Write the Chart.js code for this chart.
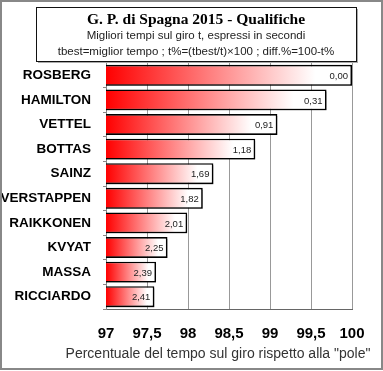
<!DOCTYPE html>
<html>
<head>
<meta charset="utf-8">
<script src="https://cdn.jsdelivr.net/npm/chart.js@4.4.1/dist/chart.umd.min.js"></script>
<style>
  body { margin: 0; background: #fff; }
  canvas { display: block; }
</style>
</head>
<body>
<canvas id="myChart" width="383" height="371"></canvas>
<script>
const drivers = ["ROSBERG", "HAMILTON", "VETTEL", "BOTTAS", "SAINZ", "VERSTAPPEN", "RAIKKONEN", "KVYAT", "MASSA", "RICCIARDO"];
const percent = [100, 99.69, 99.09, 98.82, 98.31, 98.18, 97.99, 97.75, 97.61, 97.59];
const diffLabels = ["0,00", "0,31", "0,91", "1,18", "1,69", "1,82", "2,01", "2,25", "2,39", "2,41"];
const xTicks = [97, 97.5, 98, 98.5, 99, 99.5, 100];

const titleText = "G. P. di Spagna 2015 - Qualifiche";
const subLines = ["Migliori tempi sul giro t, espressi in secondi", "tbest=miglior tempo ; t%=(tbest/t)\u00d7100 ; diff.%=100-t%"];
const axisTitle = 'Percentuale del tempo sul giro rispetto alla "pole"';

function barGradient(ctx) {
    const chart = ctx.chart;
    if (!chart.chartArea || ctx.raw === undefined) return '#ff0000';
    const x = chart.scales.x;
    const x0 = x.getPixelForValue(x.min);
    const x1 = x.getPixelForValue(ctx.raw);
    const g = chart.ctx.createLinearGradient(x0, 0, x1, 0);
    g.addColorStop(0, '#ff0000');
    g.addColorStop(0.85, '#ffffff');
    g.addColorStop(1, '#ffffff');
    return g;
}

const decorations = {
    id: 'decorations',
    beforeDatasetsDraw(chart) {
        const c = chart.ctx;
        c.save();
        c.shadowColor = 'rgba(0,0,0,0.4)';
        c.shadowOffsetX = 2;
        c.shadowOffsetY = 2;
        c.shadowBlur = 0;
    },
    afterDatasetsDraw(chart) {
        const c = chart.ctx;
        c.restore();
        // value labels at the end of bars
        const meta = chart.getDatasetMeta(0);
        c.save();
        c.font = '9.5px "Liberation Sans", Arial, sans-serif';
        c.fillStyle = '#222';
        c.textAlign = 'right';
        c.textBaseline = 'middle';
        meta.data.forEach((bar, i) => {
            c.fillText(diffLabels[i], bar.x - 4, bar.y + 1);
        });
        c.restore();
    },
    afterDraw(chart) {
        const c = chart.ctx;
        c.save();
        // outer frame
        c.strokeStyle = '#888';
        c.lineWidth = 2;
        c.strokeRect(1, 1, 381, 368);
        // title box
        c.fillStyle = '#aaa';
        c.fillRect(38, 9, 320, 54);
        c.fillStyle = '#fff';
        c.fillRect(36, 7, 320, 54);
        c.strokeStyle = '#111';
        c.lineWidth = 1;
        c.strokeRect(36.5, 7.5, 320, 54);
        c.fillStyle = '#000';
        c.textAlign = 'center';
        c.textBaseline = 'middle';
        c.font = 'bold 15.5px "Liberation Serif", "Times New Roman", serif';
        c.fillText(titleText, 196, 20);
        c.fillStyle = '#222';
        c.font = '11.5px "Liberation Sans", Arial, sans-serif';
        c.fillText(subLines[0], 196, 36);
        c.fillText(subLines[1], 196, 52);
        // x axis title
        c.font = '14px "Liberation Sans", Arial, sans-serif';
        c.fillStyle = '#333';
        c.fillText(axisTitle, 218, 354);
        c.restore();
    }
};

const ctx = document.getElementById('myChart').getContext('2d');
new Chart(ctx, {
    type: 'bar',
    data: {
        labels: drivers,
        datasets: [{
            data: percent,
            backgroundColor: barGradient,
            borderColor: '#000',
            borderWidth: 1.6,
            borderSkipped: 'start',
            barPercentage: 0.85,
            categoryPercentage: 1
        }]
    },
    options: {
        indexAxis: 'y',
        responsive: false,
        animation: false,
        layout: { padding: { top: 63, right: 31, bottom: 0, left: 0 } },
        plugins: {
            legend: { display: false },
            tooltip: { enabled: false }
        },
        scales: {
            x: {
                min: 97,
                max: 100,
                afterFit: s => { s.height = 62; },
                afterBuildTicks: s => { s.ticks = xTicks.map(v => ({ value: v })); },
                grid: { color: '#999', drawTicks: false },
                border: { color: '#666' },
                ticks: {
                    padding: 16,
                    color: '#000',
                    font: { family: '"Liberation Sans", Arial, sans-serif', size: 15, weight: 'bold' },
                    callback: v => String(v).replace('.', ',')
                }
            },
            y: {
                afterFit: s => { s.width = 106; },
                grid: { drawOnChartArea: false, tickLength: 3, offset: true, color: '#888' },
                border: { color: '#888' },
                ticks: {
                    padding: 12,
                    color: '#000',
                    font: { family: '"Liberation Sans", Arial, sans-serif', size: 13.5, weight: 'bold' }
                }
            }
        }
    },
    plugins: [decorations]
});
</script>
</body>
</html>
